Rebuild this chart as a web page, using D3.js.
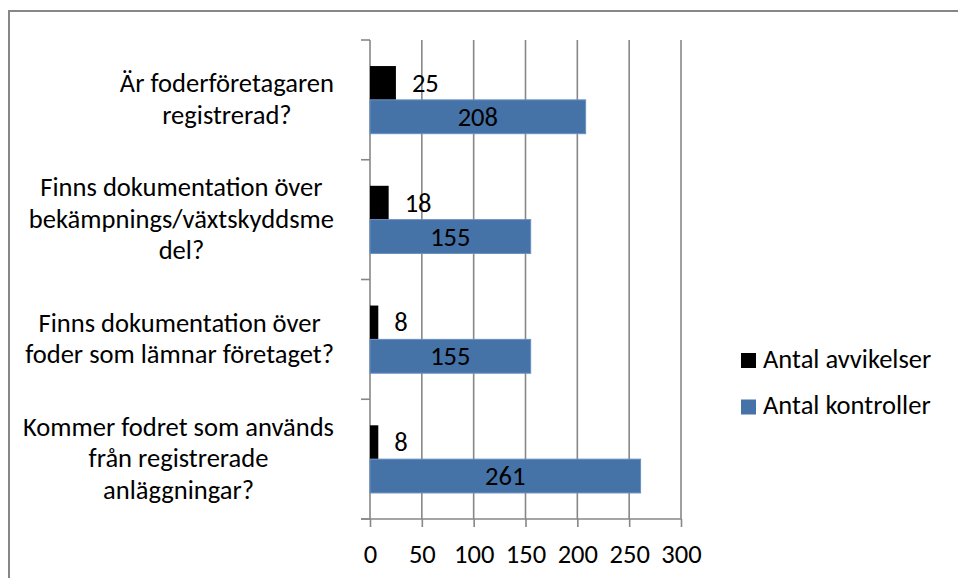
<!DOCTYPE html>
<html>
<head>
<meta charset="utf-8">
<script src="https://cdn.jsdelivr.net/npm/d3@7"></script>
<style>
  html, body { margin: 0; padding: 0; background: #fff; }
  svg { display: block; }
  text { font-family: Carlito, Calibri, Lato, sans-serif; fill: #000; }
</style>
</head>
<body>
<svg id="chart" width="958" height="578"></svg>
<script>
// ---- data ----
const categories = [
  ["Är foderföretagaren", "registrerad?"],
  ["Finns dokumentation över", "bekämpnings/växtskyddsme", "del?"],
  ["Finns dokumentation över", "foder som lämnar företaget?"],
  ["Kommer fodret som används", "från registrerade", "anläggningar?"]
];
const seriesNames = ["Antal avvikelser", "Antal kontroller"];
const avvikelser = [25, 18, 8, 8];
const kontroller = [208, 155, 155, 261];
const xTicks = [0, 50, 100, 150, 200, 250, 300];
const seriesColors = ["#000000", "#4572A7"];

// ---- layout ----
const svg = d3.select("#chart");
const W = 958, H = 578;
const plot = { left: 370, right: 681, top: 40, bottom: 519 };
const gridColor = "#878787";

// font sizing: fit reference width
const probe = svg.append("text").attr("font-size", 100).text("Kommer fodret som används");
const probeW = probe.node().getComputedTextLength();
probe.remove();
const fs = 100 * 311 / probeW;

svg.append("rect").attr("width", W).attr("height", H).attr("fill", "#fff");
// outer border (top & left visible)
svg.append("path")
  .attr("d", `M9,${H}V11H${W}`)
  .attr("fill", "none").attr("stroke", gridColor).attr("stroke-width", 2);

const x = d3.scaleLinear().domain([0, 300]).range([plot.left, plot.right]);
const catIdx = categories.map((_, i) => i);
const y = d3.scaleBand().domain(catIdx).range([plot.top, plot.bottom]).paddingInner(0).paddingOuter(0);
const ySub = d3.scaleBand().domain([0, 1]).range([0, y.bandwidth()]).paddingInner(0).paddingOuter(0.77);

// gridlines
svg.append("g").selectAll("line").data(xTicks.filter(t => t > 0)).join("line")
  .attr("x1", d => x(d)).attr("x2", d => x(d))
  .attr("y1", plot.top).attr("y2", plot.bottom)
  .attr("stroke", gridColor).attr("stroke-width", 1.6);

// x axis
const xAxis = svg.append("g").attr("transform", `translate(0,${plot.bottom})`)
  .call(d3.axisBottom(x).tickValues(xTicks).tickSize(8).tickPadding(14).tickFormat(d3.format("d")));
xAxis.select(".domain").attr("d", `M${plot.left - 9},0H${plot.right}`).attr("stroke", gridColor).attr("stroke-width", 1.6);
xAxis.selectAll(".tick line").attr("stroke", gridColor).attr("stroke-width", 1.6);
xAxis.selectAll(".tick text").attr("font-size", fs).attr("font-family", null).attr("fill", "#000")
  .attr("dy", null).attr("y", 44);
xAxis.attr("font-family", null).attr("font-size", null);

// y axis line + ticks at band boundaries
const yAxisG = svg.append("g");
yAxisG.append("line").attr("x1", plot.left).attr("x2", plot.left)
  .attr("y1", plot.top).attr("y2", plot.bottom).attr("stroke", gridColor).attr("stroke-width", 1.6);
const bounds = catIdx.map(i => y(i)).concat([plot.bottom]);
yAxisG.selectAll("line.tk").data(bounds).join("line").attr("class", "tk")
  .attr("x1", plot.left - 9).attr("x2", plot.left)
  .attr("y1", d => d).attr("y2", d => d)
  .attr("stroke", gridColor).attr("stroke-width", 1.6);

// bars
const seriesData = [avvikelser, kontroller];
seriesData.forEach((vals, s) => {
  const g = svg.append("g");
  g.selectAll("rect").data(vals).join("rect")
    .attr("x", x(0))
    .attr("y", (d, i) => y(i) + ySub(s))
    .attr("width", d => x(d) - x(0))
    .attr("height", ySub.bandwidth())
    .attr("fill", seriesColors[s])
    .attr("stroke", s === 1 ? "#6a8fc2" : "none")
    .attr("stroke-width", 1);
  g.selectAll("text").data(vals).join("text")
    .attr("font-size", fs)
    .attr("x", d => s === 0 ? x(d) + 16 : (x(0) + x(d)) / 2)
    .attr("y", (d, i) => y(i) + ySub(s) + ySub.bandwidth() / 2)
    .attr("dy", "0.34em")
    .attr("text-anchor", s === 0 ? "start" : "middle")
    .text(d => d);
});

// category labels (block right-aligned, lines centered)
const labelRight = 334;
const lineH = 31.6;
categories.forEach((lines, i) => {
  const g = svg.append("g");
  const texts = lines.map((ln, k) => g.append("text").attr("font-size", fs).text(ln));
  const maxW = d3.max(texts, t => t.node().getComputedTextLength());
  const cx = labelRight - maxW / 2;
  const cy = y(i) + y.bandwidth() / 2;
  texts.forEach((t, k) => {
    t.attr("x", cx).attr("text-anchor", "middle")
      .attr("y", cy + (k - (lines.length - 1) / 2) * lineH + 8);
  });
});

// legend
const legend = svg.append("g");
seriesNames.forEach((name, s) => {
  const ly = 353 + s * 46.5;
  legend.append("rect").attr("x", 741).attr("y", ly).attr("width", 15).attr("height", 15)
    .attr("fill", seriesColors[s]);
  legend.append("text").attr("x", 763).attr("y", ly + 14.5).attr("font-size", fs).text(name);
});
</script>
</body>
</html>
